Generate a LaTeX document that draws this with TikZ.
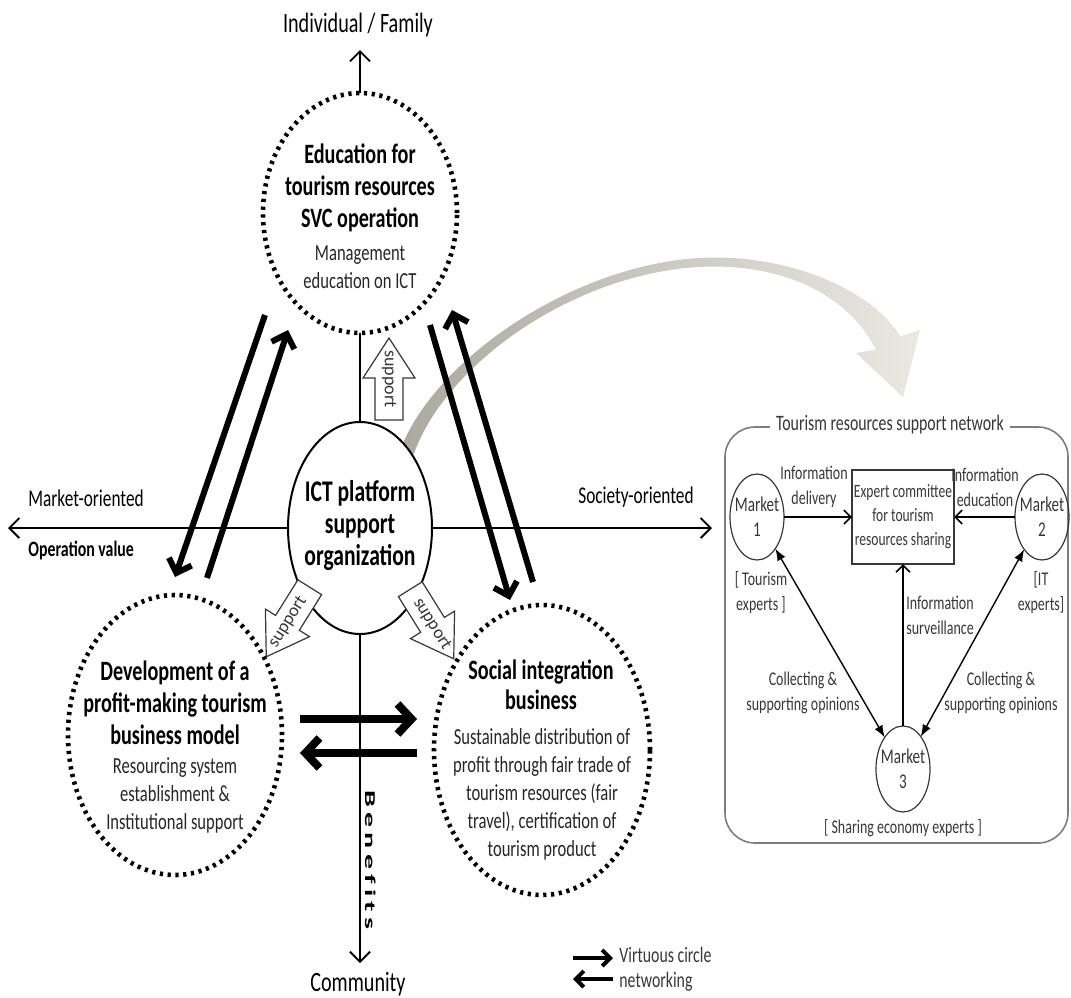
\documentclass[tikz,border=0pt]{standalone}
\usepackage{fontspec}
\setmainfont{Carlito}[FakeStretch=0.72]
\newfontfamily\plainfont{Carlito}
\usetikzlibrary{arrows.meta,shapes.geometric}

\definecolor{bandA}{RGB}{170,170,161}
\definecolor{bandB}{RGB}{233,233,226}
\definecolor{panelgray}{RGB}{125,125,125}
\definecolor{inkgray}{RGB}{55,55,55}

\tikzset{
  dotring/.style={ellipse, draw, line width=2.3pt, dash pattern=on 1.6pt off 2.3pt,
    inner sep=0pt, outer sep=0pt},
  hub/.style={ellipse, draw, line width=1pt, fill=white, inner sep=0pt, outer sep=0pt,
    minimum width=72pt, minimum height=106pt},
  ringtitle/.style={font=\fontsize{14}{16}\selectfont\bfseries, align=center, inner sep=0pt},
  ringbody/.style={font=\fontsize{11.5}{14}\selectfont, align=center, inner sep=0pt, text=black!85},
  hubtext/.style={font=\fontsize{15}{16}\selectfont\bfseries, align=center, inner sep=0pt},
  axisline/.style={line width=0.9pt},
  axis/.style={line width=0.9pt, -{Straight Barb[length=5pt,width=10pt]}},
  axislabel/.style={font=\fontsize{12}{14}\selectfont, inner sep=0pt},
  axislabelbold/.style={font=\fontsize{11}{13}\selectfont\bfseries, inner sep=0pt},
  endlabel/.style={font=\fontsize{14}{16}\selectfont, inner sep=0pt},
  flow/.style={line width=3pt, -{Straight Barb[length=6pt,width=12pt]}},
  swapflow/.style={line width=4pt, -{Straight Barb[length=7pt,width=15pt]}},
  legendflow/.style={line width=2pt, -{Straight Barb[length=4pt,width=8pt]}},
  legendtext/.style={font=\fontsize{11}{12.5}\selectfont, align=left, inner sep=0pt, text=inkgray},
  supportshape/.style={draw=inkgray, line width=0.6pt, fill=white},
  supporttext/.style={font=\plainfont\fontsize{9}{10}\selectfont, inner sep=0pt, text=inkgray},
  panelframe/.style={draw=panelgray, line width=0.8pt, rounded corners=15pt},
  paneltitle/.style={font=\fontsize{11}{12}\selectfont, fill=white, inner xsep=3pt, inner ysep=1pt, text=inkgray},
  market/.style={ellipse, draw=inkgray, line width=0.6pt, inner sep=0pt, outer sep=0pt,
    minimum width=27pt, minimum height=43pt},
  markettext/.style={font=\fontsize{10.5}{12.5}\selectfont, align=center, inner sep=0pt, text=inkgray},
  committee/.style={rectangle, draw=inkgray, line width=0.6pt, inner sep=0.5pt, outer sep=0pt,
    minimum width=51pt, minimum height=47pt, align=center,
    font=\fontsize{9.4}{12}\selectfont, text=inkgray},
  panellabel/.style={font=\fontsize{9.7}{12.5}\selectfont, align=center, inner sep=0pt, text=inkgray},
  infoarrow/.style={line width=0.8pt, -{Straight Barb[length=3.5pt,width=7pt]}},
  opinion/.style={line width=0.7pt, {Latex[length=6pt,width=4.5pt]}-{Latex[length=6pt,width=4.5pt]}}
}

% block arrow labelled "support": name, centre, pointing direction, label angle
\newcommand{\supparrow}[4]{%
  \draw[supportshape, shift={#2}, rotate=#3]
    (-41,-14) -- (1,-14) -- (1,-26) -- (41,0) -- (1,26) -- (1,14) -- (-41,14) -- cycle;
  \node[supporttext, rotate=#4] (#1) at #2 {support};}

\begin{document}
\begin{tikzpicture}[x=0.5pt,y=-0.5pt]
\useasboundingbox (0,0) rectangle (1071,997);

% curved grey band from the hub towards the support network
\shade[left color=bandA, right color=bandB]
  (400.4,449.6) .. controls (436.4,354.9) and (585,257.5) .. (715,257.5)
  .. controls (800,257.5) and (875.6,294.4) .. (900.3,336.4)
  -- (920,330) -- (903,397) -- (856,353) -- (875.7,349.6)
  .. controls (854.4,305.6) and (800,267) .. (715,266.5)
  .. controls (585,266.5) and (447.6,359.1) .. (413.6,454.4) -- cycle;

% the four circles
\node[dotring, minimum width=97pt, minimum height=120pt] (edu) at (360,213) {};
\node[dotring, minimum width=107pt, minimum height=140pt] (dev) at (175,735) {};
\node[dotring, minimum width=108pt, minimum height=145pt] (soc) at (542,750) {};
\node[hub] (ict) at (360,528) {};

\node[ringtitle] (eduT) at (360,188) {Education for\\tourism resources\\SVC operation};
\node[ringbody] (eduB) at (360,267) {Management\\education on ICT};
\node[ringtitle] (devT) at (175,703) {Development of a\\profit-making tourism\\business model};
\node[ringbody] (devB) at (175,795) {Resourcing system\\establishment \&\\Institutional support};
\node[ringtitle, font=\fontsize{14}{15}\selectfont\bfseries] (socT) at (541,685) {Social integration\\business};
\node[ringbody] (socB) at (542,794) {Sustainable distribution of\\profit through fair trade of\\tourism resources (fair\\travel), certification of\\tourism product};
\node[hubtext] (ictT) at (360,526) {ICT platform\\support\\organization};

% axes
\coordinate (famtip) at (360,50);
\coordinate (comtip) at (360,963);
\coordinate (mkttip) at (8,528);
\coordinate (soctip) at (712,528);
\draw[axis] (edu.north) -- (famtip);
\draw[axisline] (edu.south) -- (ict.north);
\draw[axis] (ict.south) -- (comtip);
\draw[axis] (ict.west) -- (mkttip);
\draw[axis] (ict.east) -- (soctip);

\node[endlabel] (fam) at (358,25) {Individual / Family};
\node[endlabel] (com) at (358,984) {Community};
\node[axislabel, anchor=west] (mkt) at (28,498) {Market-oriented};
\node[axislabelbold, anchor=west] (opv) at (28,550) {Operation value};
\node[axislabel] (socor) at (636,497) {Society-oriented};
\node[rotate=-90, inner sep=0pt] (ben) at (371,860)
  {\scalebox{2}[1]{\plainfont\bfseries\fontsize{7.5}{9}\selectfont B\kern1.3pt e\kern1.3pt n\kern1.3pt e\kern1.3pt f\kern1.3pt i\kern1.3pt t\kern1.3pt s}};

% support arrows from the hub
\supparrow{supU}{(389,379)}{90}{-90}
\supparrow{supL}{(288,622)}{238}{58}
\supparrow{supR}{(432,624)}{-58}{-58}

% exchange arrows between the circles
\coordinate (a1) at (265,315);  \coordinate (a2) at (175,577);
\coordinate (b1) at (207,578);  \coordinate (b2) at (288,330);
\coordinate (c1) at (430,325);  \coordinate (c2) at (510,600);
\coordinate (d1) at (533,582);  \coordinate (d2) at (452,310);
\coordinate (h1) at (300,719);  \coordinate (h2) at (417,719);
\coordinate (k1) at (417,753);  \coordinate (k2) at (300,753);
\draw[flow] (a1) -- (a2);
\draw[flow] (b1) -- (b2);
\draw[flow] (c1) -- (c2);
\draw[flow] (d1) -- (d2);
\draw[swapflow] (h1) -- (h2);
\draw[swapflow] (k1) -- (k2);

% legend
\coordinate (lg1) at (573,958); \coordinate (lg2) at (613,958);
\coordinate (lg3) at (613,979); \coordinate (lg4) at (573,979);
\draw[legendflow] (lg1) -- (lg2);
\draw[legendflow] (lg3) -- (lg4);
\node[legendtext, anchor=west] (lgT) at (619,969) {Virtuous circle\\networking};

% support network panel
\draw[panelframe] (725,427) rectangle (1068,843);
\node[paneltitle] (ptitle) at (890,425) {Tourism resources support network};

\node[market] (m1) at (757,517) {};
\node[market] (m2) at (1042,517) {};
\node[market] (m3) at (903,769) {};
\node[markettext] (m1t) at (757,517) {Market\\1};
\node[markettext] (m2t) at (1042,517) {Market\\2};
\node[markettext] (m3t) at (903,769) {Market\\3};
\node[committee] (cmt) at (903,517) {Expert committee\\for tourism\\resources sharing};

\draw[infoarrow] (m1) -- (cmt);
\draw[infoarrow] (m2) -- (cmt);
\draw[infoarrow] (m3) -- (cmt);
\draw[opinion] (m1) -- (m3);
\draw[opinion] (m2) -- (m3);

\node[panellabel] (l1) at (814,487) {Information\\delivery};
\node[panellabel] (l2) at (985,487) {Information\\education};
\node[panellabel] (l3) at (761,593) {[ Tourism\\experts ]};
\node[panellabel] (l4) at (1041,593) {[IT\\experts]};
\node[panellabel, align=left, anchor=west] (l5) at (906,615) {Information\\surveillance};
\node[panellabel] (l6) at (803,693) {Collecting \&\\supporting opinions};
\node[panellabel] (l7) at (1001,693) {Collecting \&\\supporting opinions};
\node[panellabel] (l8) at (903,828) {[ Sharing economy experts ]};
\end{tikzpicture}
\end{document}
